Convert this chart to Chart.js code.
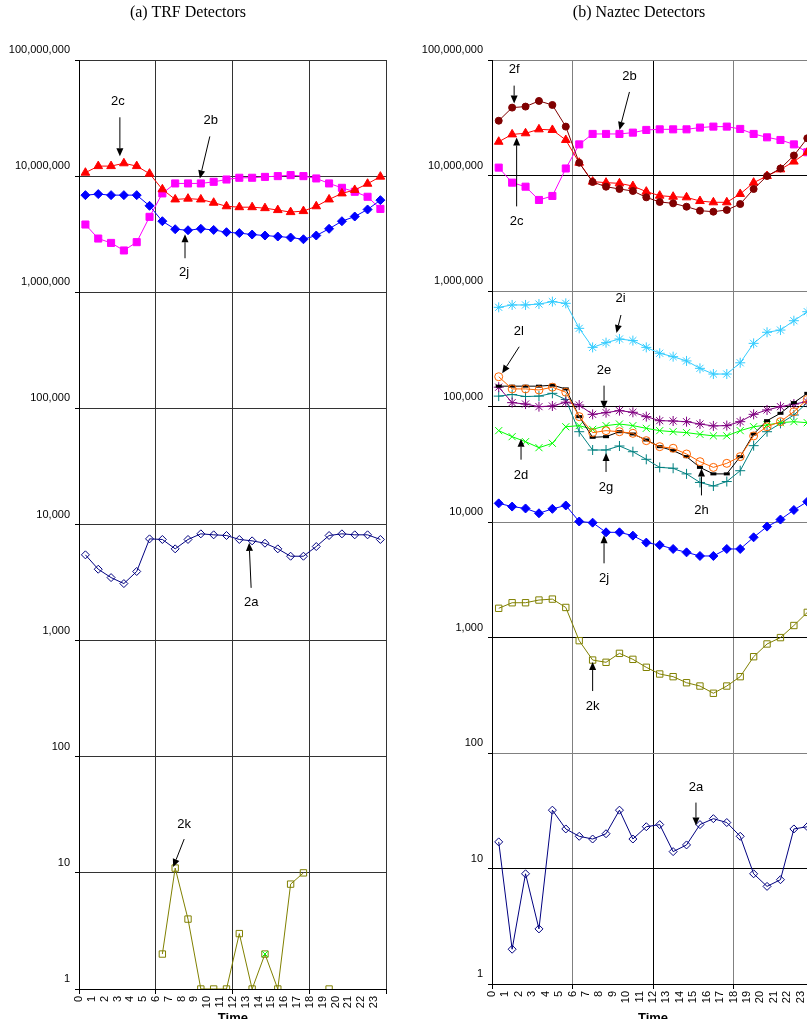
<!DOCTYPE html>
<html>
<head>
<meta charset="utf-8">
<title>TRF and Naztec detectors</title>
<script src="https://cdn.jsdelivr.net/npm/chart.js@4.4.0/dist/chart.umd.min.js"></script>
<style>
  html, body { margin: 0; padding: 0; background: #fff; overflow: hidden; }
  body { width: 807px; height: 1019px; position: relative; }
  canvas { position: absolute; top: 0; }
  .ttl {
    position: absolute; top: 3px; white-space: nowrap; color: #000;
    font-family: "Liberation Serif", "Times New Roman", serif; font-size: 16px;
    transform: translateX(-50%);
  }
</style>
</head>
<body>
<canvas id="trfChart" width="402" height="1019" style="left:0"></canvas>
<canvas id="naztecChart" width="420" height="1019" style="left:410px"></canvas>
<div class="ttl" style="left:188px">(a) TRF Detectors</div>
<div class="ttl" style="left:639px">(b) Naztec Detectors</div>

<script>
/************ data ************/
const hours = [0, 1, 2, 3, 4, 5, 6, 7, 8, 9, 10, 11, 12, 13, 14, 15, 16, 17, 18, 19, 20, 21, 22, 23];
const decadeTicks = [1, 10, 100, 1000, 10000, 100000, 1000000, 10000000, 100000000];

// (a) TRF detectors
const trf2c = [10700000, 12200000, 12200000, 12900000, 12200000, 10500000, 7700000, 6300000, 6400000, 6300000, 5900000, 5500000,
  5400000, 5400000, 5300000, 5100000, 4900000, 5000000, 5500000, 6300000, 7100000, 7600000, 8600000, 9900000];
const trf2b = [3830000, 2900000, 2660000, 2290000, 2700000, 4460000, 7100000, 8650000, 8650000, 8650000, 8930000, 9350000,
  9680000, 9680000, 9850000, 10000000, 10200000, 10000000, 9550000, 8650000, 7930000, 7330000, 6640000, 5220000];
const trf2j = [6860000, 7000000, 6860000, 6860000, 6860000, 5550000, 4090000, 3490000, 3420000, 3520000, 3440000, 3290000,
  3230000, 3140000, 3080000, 3020000, 2960000, 2860000, 3080000, 3520000, 4090000, 4490000, 5160000, 6210000];
const trf2a = [5480, 4120, 3490, 3100, 3940, 7520, 7430, 6170, 7430, 8310, 8150, 8040,
  7430, 7230, 6900, 6170, 5330, 5330, 6460, 8040, 8310, 8150, 8150, 7430];
const trf2k = [null, null, null, null, null, null, 2, 11, 4, 1, 1, 1,
  3, 1, 2, 1, 8, 10, null, 1, null, null, null, null];
const trf2d = [null, null, null, null, null, null, null, null, null, null, null, null,
  null, null, 2, null, null, null, null, null, null, null, null, null];

// (b) Naztec detectors
const nz2f = [29800000, 38700000, 39500000, 44200000, 40800000, 26500000, 12900000, 8780000, 8000000, 7640000, 7340000, 6470000,
  5900000, 5740000, 5370000, 4960000, 4860000, 5030000, 5660000, 7640000, 9900000, 11500000, 14900000, 21000000];
const nz2c = [19600000, 22700000, 23200000, 25100000, 24800000, 20300000, 12900000, 8850000, 8670000, 8550000, 8100000, 7250000,
  6690000, 6550000, 6470000, 6010000, 5860000, 5860000, 6920000, 8670000, 9900000, 11300000, 13200000, 15900000];
const nz2b = [11700000, 8670000, 8000000, 6140000, 6650000, 11500000, 18600000, 22900000, 22900000, 22900000, 23500000, 24800000,
  25100000, 25100000, 25100000, 26000000, 26500000, 26500000, 25300000, 22900000, 21400000, 20300000, 18600000, 15900000];
const nz2i = [722000, 757000, 757000, 771000, 809000, 782000, 475000, 325000, 357000, 384000, 372000, 325000,
  289000, 270000, 248000, 214000, 191000, 191000, 239000, 352000, 439000, 459000, 553000, 662000];
const nz2l = [181000, 142000, 142000, 139000, 147000, 133000, 81700, 59400, 61800, 60500, 58600, 50600,
  44900, 43500, 38800, 33300, 29700, 32200, 36800, 55600, 66800, 73900, 90200, 115000];
const nz2h = [150000, 150000, 150000, 150000, 153000, 142000, 81700, 54100, 54800, 60500, 57800, 51300,
  44900, 41500, 36800, 29700, 26100, 26100, 36800, 57800, 75400, 87300, 108000, 130000];
const nz2e = [147000, 108000, 105000, 99700, 101000, 109000, 103000, 85500, 88500, 92100, 89100, 81700,
  75400, 74900, 73900, 70500, 67900, 68300, 73900, 85500, 93300, 99700, 105000, 110000];
const nz2d = [61800, 54800, 49600, 44000, 48000, 66800, 68300, 63400, 68300, 70500, 68300, 64700,
  61800, 60500, 59400, 57400, 55700, 55700, 61800, 66800, 69200, 72400, 73900, 72400];
const nz2g = [123000, 127000, 122000, 123000, 130000, 115000, 60500, 42000, 42000, 45500, 40600, 34900,
  29700, 29200, 26100, 22000, 20500, 22400, 27800, 45800, 60500, 71400, 84400, 108000];
const nz2j = [14500, 13600, 13100, 11900, 13000, 13900, 10100, 9870, 8140, 8140, 7620, 6630,
  6320, 5840, 5460, 5080, 5080, 5840, 5840, 7370, 9120, 10500, 12700, 15000];
const nz2k = [1790, 2000, 2000, 2110, 2150, 1820, 939, 638, 610, 729, 647, 552,
  483, 458, 406, 380, 329, 380, 458, 682, 879, 998, 1270, 1650];
const nz2a = [17, 2, 9, 3, 32, 22, 19, 18, 20, 32, 18, 23,
  24, 14, 16, 24, 27, 25, 19, 9, 7, 8, 22, 23];

/************ callout labels (anchored on a data point, offsets in px) ************/
const trfNotes = [
  {text: '2c', values: trf2c, hour: 3, tip: [-4, -7], tail: [-4, -46], label: [-6, -62]},
  {text: '2b', values: trf2b, hour: 9, tip: [-1, -5], tail: [9, -47], label: [10, -63]},
  {text: '2j', values: trf2j, hour: 8, tip: [-3, 4], tail: [-3, 28], label: [-4, 42]},
  {text: '2a', values: trf2a, hour: 13, tip: [-3, 2], tail: [-1, 47], label: [-1, 62]},
  {text: '2k', values: trf2k, hour: 7, tip: [-2, -1], tail: [9, -29], label: [9, -44]}
];
const nzNotes = [
  {text: '2f', values: nz2f, hour: 1, tip: [2, -4], tail: [2, -22], label: [2, -38]},
  {text: '2b', values: nz2b, hour: 9, tip: [0, -4], tail: [10, -42], label: [10, -58]},
  {text: '2c', values: nz2c, hour: 1, tip: [4.5, 3], tail: [4.5, 72], label: [4.5, 87]},
  {text: '2i', values: nz2i, hour: 9, tip: [-3, -6], tail: [1.5, -24], label: [1, -41]},
  {text: '2l', values: nz2l, hour: 0, tip: [3.5, -3.5], tail: [20.5, -30], label: [20, -45]},
  {text: '2e', values: nz2e, hour: 8, tip: [-2, -4], tail: [-2, -27], label: [-2, -42]},
  {text: '2d', values: nz2d, hour: 2, tip: [-4.5, -3], tail: [-4.5, 18], label: [-4.5, 34]},
  {text: '2g', values: nz2g, hour: 8, tip: [0, 3], tail: [0, 22], label: [0, 37]},
  {text: '2h', values: nz2h, hour: 15, tip: [1.5, 1], tail: [1.5, 28], label: [1.5, 43]},
  {text: '2j', values: nz2j, hour: 8, tip: [-2, 3], tail: [-2, 31], label: [-2, 46]},
  {text: '2k', values: nz2k, hour: 7, tip: [0, 2], tail: [0, 31], label: [0, 46]},
  {text: '2a', values: nz2a, hour: 15, tip: [-4, 1], tail: [-4, -22], label: [-4, -37]}
];

const SANS = '"Liberation Sans", Arial, sans-serif';

function drawArrow(ctx, x0, y0, x1, y1) {
  const a = Math.atan2(y1 - y0, x1 - x0);
  const len = 8, hw = 3.5;
  const bx = x1 - len * Math.cos(a), by = y1 - len * Math.sin(a);
  ctx.beginPath();
  ctx.moveTo(x0, y0);
  ctx.lineTo(bx, by);
  ctx.stroke();
  ctx.beginPath();
  ctx.moveTo(x1, y1);
  ctx.lineTo(bx + hw * Math.sin(a), by - hw * Math.cos(a));
  ctx.lineTo(bx - hw * Math.sin(a), by + hw * Math.cos(a));
  ctx.closePath();
  ctx.fill();
}

function calloutPlugin(notes, titleY) {
  return {
    id: 'callouts',
    afterDatasetsDraw(chart) {
      const ctx = chart.ctx;
      const xs = chart.scales.x, ys = chart.scales.y;
      ctx.save();
      ctx.fillStyle = '#000';
      ctx.strokeStyle = '#000';
      ctx.lineWidth = 1;
      ctx.font = '13px ' + SANS;
      ctx.textAlign = 'center';
      ctx.textBaseline = 'middle';
      notes.forEach(function (n) {
        const px = xs.getPixelForValue(n.hour + 0.5);
        const py = ys.getPixelForValue(n.values[n.hour]);
        drawArrow(ctx, px + n.tail[0], py + n.tail[1], px + n.tip[0], py + n.tip[1]);
        ctx.fillText(n.text, px + n.label[0], py + n.label[1]);
      });
      // axis title, mostly below the canvas edge like the original
      ctx.font = 'bold 13px ' + SANS;
      ctx.textBaseline = 'top';
      ctx.fillText('Time', (chart.chartArea.left + chart.chartArea.right) / 2, titleY);
      ctx.restore();
    }
  };
}

function series(label, values, color, style, radius, filled, width) {
  return {
    label: label,
    data: hours.map(function (h, i) { return {x: h + 0.5, y: values[i]}; }),
    borderColor: color,
    borderWidth: 1,
    pointStyle: style,
    pointRadius: radius,
    pointBorderColor: color,
    pointBackgroundColor: filled ? color : 'rgba(0,0,0,0)',
    pointBorderWidth: width || 1,
    tension: 0,
    spanGaps: false
  };
}

function makeScales(yWidth, xHeight, vColor, hColor) {
  const tickFont = {family: SANS, size: 11};
  return {
    x: {
      type: 'linear', min: 0, max: 24,
      afterBuildTicks: function (s) { s.ticks = hours.concat([24]).map(function (v) { return {value: v}; }); },
      afterFit: function (s) { s.height = xHeight; },
      ticks: {
        autoSkip: false, maxRotation: 90, minRotation: 90, padding: 2, color: '#000', font: tickFont,
        callback: function (v) { return v < 24 ? String(v) : ''; }
      },
      grid: {
        color: function (c) { return c.tick && c.tick.value % 6 === 0 ? vColor(c.tick.value) : 'rgba(0,0,0,0)'; },
        tickColor: function (c) { return c.tick && c.tick.value % 6 === 0 ? '#000' : 'rgba(0,0,0,0)'; },
        tickLength: 5
      },
      border: {color: '#000'}
    },
    y: {
      type: 'logarithmic', min: 1, max: 100000000,
      afterBuildTicks: function (s) { s.ticks = decadeTicks.map(function (v) { return {value: v}; }); },
      afterFit: function (s) { s.width = yWidth; },
      ticks: {
        padding: 5, labelOffset: -10, color: '#000', font: tickFont,
        callback: function (v) { return Number(v).toLocaleString('en-US'); }
      },
      grid: {
        color: function (c) { return c.tick ? hColor(c.tick.value) : '#333'; },
        tickColor: '#000',
        tickLength: 4
      },
      border: {color: '#000'}
    }
  };
}

function baseOptions(scales, padRight) {
  return {
    responsive: false,
    animation: false,
    devicePixelRatio: 1,
    events: [],
    layout: {padding: {top: 60, right: padRight, left: 0, bottom: 0}},
    plugins: {legend: {display: false}, tooltip: {enabled: false}, title: {display: false}},
    scales: scales
  };
}

/************ (a) TRF ************/
new Chart(document.getElementById('trfChart'), {
  type: 'line',
  data: {
    datasets: [
      series('2c', trf2c, '#FF0000', 'triangle', 5, true),
      series('2b', trf2b, '#FF00FF', 'rect', 5, true),
      series('2j', trf2j, '#0000FF', 'rectRot', 4.5, true),
      series('2a', trf2a, '#000080', 'rectRot', 4, false),
      series('2d', trf2d, '#00FF00', 'crossRot', 4, false),
      series('2k', trf2k, '#808000', 'rect', 4.5, false)
    ]
  },
  options: baseOptions(makeScales(79, 30,
    function () { return '#333'; },
    function () { return '#333'; }), 12),
  plugins: [calloutPlugin(trfNotes, 1012)]
});

/************ (b) Naztec ************/
new Chart(document.getElementById('naztecChart'), {
  type: 'line',
  data: {
    datasets: [
      series('2f', nz2f, '#800000', 'circle', 3.5, true),
      series('2c', nz2c, '#FF0000', 'triangle', 5, true),
      series('2b', nz2b, '#FF00FF', 'rect', 5, true),
      series('2i', nz2i, '#33CCFF', 'star', 5, false),
      series('2l', nz2l, '#FF6600', 'circle', 4, false),
      series('2h', nz2h, '#000000', 'line', 3, false, 3),
      series('2e', nz2e, '#800080', 'star', 5, false),
      series('2d', nz2d, '#00FF00', 'crossRot', 5, false),
      series('2g', nz2g, '#008080', 'cross', 5, false),
      series('2j', nz2j, '#0000FF', 'rectRot', 4.5, true),
      series('2k', nz2k, '#808000', 'rect', 4.5, false),
      series('2a', nz2a, '#000080', 'rectRot', 4, false)
    ]
  },
  options: baseOptions(makeScales(82, 35,
    function (v) { return v === 12 ? '#000' : '#808080'; },
    function (v) { return [10, 1000, 100000, 10000000].indexOf(v) >= 0 ? '#000' : '#808080'; }), 16),
  plugins: [calloutPlugin(nzNotes, 1012)]
});
</script>
</body>
</html>
